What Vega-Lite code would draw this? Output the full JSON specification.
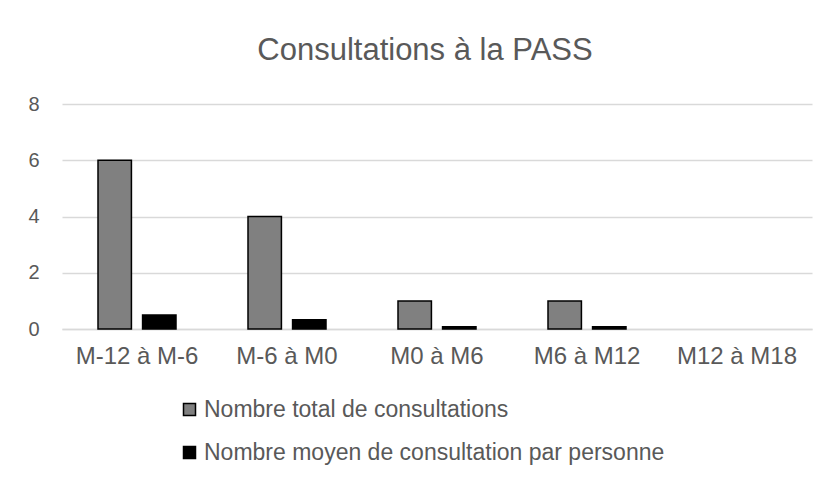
{
  "$schema": "https://vega.github.io/schema/vega-lite/v6.json",
  "width": 750,
  "height": 225,
  "autosize": {"type": "none"},
  "padding": {"left": 62, "top": 104, "right": 19, "bottom": 148},
  "background": "white",
  "title": {
    "text": "Consultations à la PASS",
    "fontSize": 31,
    "font": "Liberation Sans",
    "fontWeight": "normal",
    "color": "#595959",
    "anchor": "middle",
    "offset": 27,
    "dx": -12
  },
  "config": {
    "view": {"stroke": null},
    "font": "Liberation Sans"
  },
  "data": {
    "values": [
      {"periode": "M-12 à M-6", "serie": "Nombre total de consultations", "valeur": 6},
      {"periode": "M-12 à M-6", "serie": "Nombre moyen de consultation par personne", "valeur": 0.5},
      {"periode": "M-6 à M0", "serie": "Nombre total de consultations", "valeur": 4},
      {"periode": "M-6 à M0", "serie": "Nombre moyen de consultation par personne", "valeur": 0.33},
      {"periode": "M0 à M6", "serie": "Nombre total de consultations", "valeur": 1},
      {"periode": "M0 à M6", "serie": "Nombre moyen de consultation par personne", "valeur": 0.08},
      {"periode": "M6 à M12", "serie": "Nombre total de consultations", "valeur": 1},
      {"periode": "M6 à M12", "serie": "Nombre moyen de consultation par personne", "valeur": 0.08},
      {"periode": "M12 à M18", "serie": "Nombre total de consultations", "valeur": 0},
      {"periode": "M12 à M18", "serie": "Nombre moyen de consultation par personne", "valeur": 0}
    ]
  },
  "mark": {"type": "bar", "stroke": "#000000", "strokeWidth": 1.5},
  "encoding": {
    "x": {
      "field": "periode",
      "type": "nominal",
      "sort": ["M-12 à M-6", "M-6 à M0", "M0 à M6", "M6 à M12", "M12 à M18"],
      "scale": {"paddingInner": 0.48, "paddingOuter": 0.24},
      "axis": {
        "title": null,
        "labelAngle": 0,
        "labelFontSize": 24,
        "labelColor": "#595959",
        "labelPadding": 15,
        "labelLimit": 0,
        "ticks": false,
        "domainColor": "#d9d9d9",
        "domainWidth": 1.5
      }
    },
    "xOffset": {
      "field": "serie",
      "type": "nominal",
      "sort": ["Nombre total de consultations", "Nombre moyen de consultation par personne"],
      "scale": {"paddingInner": 0.25, "paddingOuter": 0}
    },
    "y": {
      "field": "valeur",
      "type": "quantitative",
      "scale": {"domain": [0, 8]},
      "axis": {
        "title": null,
        "values": [0, 2, 4, 6, 8],
        "labelFontSize": 20,
        "labelColor": "#595959",
        "labelPadding": 23,
        "ticks": false,
        "domain": false,
        "gridColor": "#d9d9d9",
        "gridWidth": 1.5
      }
    },
    "strokeOpacity": {
      "condition": {"test": "datum.valeur > 0", "value": 1},
      "value": 0
    },
    "fill": {
      "field": "serie",
      "type": "nominal",
      "sort": ["Nombre total de consultations", "Nombre moyen de consultation par personne"],
      "scale": {
        "domain": ["Nombre total de consultations", "Nombre moyen de consultation par personne"],
        "range": ["#808080", "#000000"]
      },
      "legend": {
        "title": null,
        "orient": "none",
        "legendX": 116,
        "legendY": 294,
        "direction": "vertical",
        "symbolType": "square",
        "symbolSize": 144,
        "symbolStrokeColor": "#000000",
        "symbolStrokeWidth": 1.5,
        "labelFontSize": 23,
        "labelColor": "#595959",
        "labelOffset": 3,
        "labelLimit": 0,
        "rowPadding": 19
      }
    }
  }
}
